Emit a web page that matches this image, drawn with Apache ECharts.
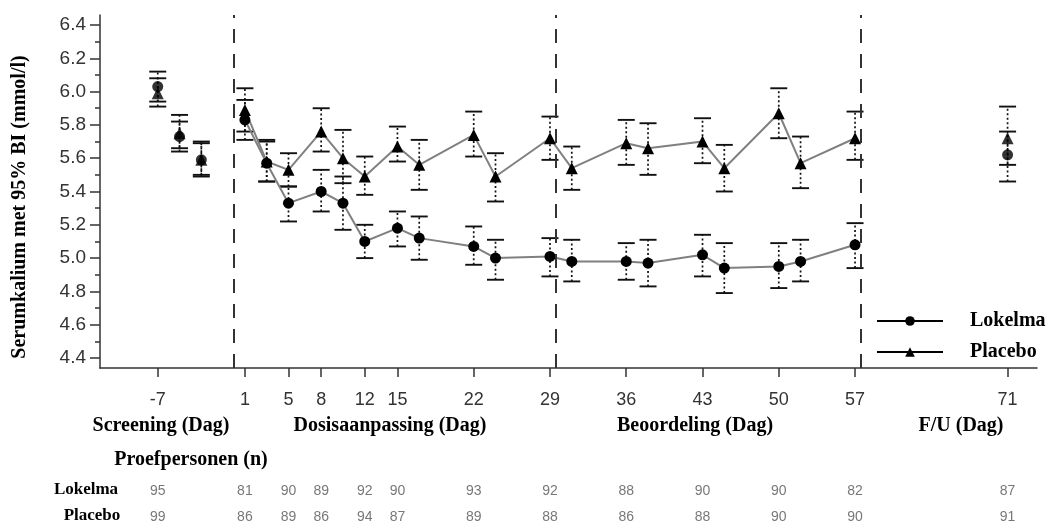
<!DOCTYPE html>
<html><head><meta charset="utf-8">
<script src="https://cdn.jsdelivr.net/npm/echarts@6/dist/echarts.min.js"></script>
<style>html,body{margin:0;padding:0;background:#fff}#c{width:1051px;height:522px}</style>
</head><body><div id="c"></div>
<script>
// ---- data ----
const mainDays = [1,3,5,8,10,12,15,17,22,24,29,31,36,38,43,45,50,52,57];
const lokMain  = [5.83,5.57,5.33,5.40,5.33,5.10,5.18,5.12,5.07,5.00,5.01,4.98,4.98,4.97,5.02,4.94,4.95,4.98,5.08];
const lokLo    = [5.71,5.46,5.22,5.28,5.17,5.00,5.07,4.99,4.96,4.87,4.89,4.86,4.87,4.83,4.89,4.79,4.82,4.86,4.94];
const lokHi    = [5.95,5.70,5.43,5.53,5.49,5.20,5.28,5.25,5.19,5.11,5.12,5.11,5.09,5.11,5.14,5.09,5.09,5.11,5.21];
const plaMain  = [5.89,5.58,5.53,5.76,5.60,5.49,5.67,5.56,5.74,5.49,5.72,5.54,5.69,5.66,5.70,5.54,5.87,5.57,5.72];
const plaLo    = [5.76,5.46,5.43,5.64,5.45,5.38,5.58,5.41,5.61,5.34,5.59,5.41,5.56,5.50,5.57,5.40,5.72,5.42,5.59];
const plaHi    = [6.02,5.71,5.63,5.90,5.77,5.61,5.79,5.71,5.88,5.63,5.85,5.67,5.83,5.81,5.84,5.68,6.02,5.73,5.88];

const sideDays = [-7,-5,-3,71];
const lokSide  = [6.03,5.73,5.59,5.62];
const lokSideLo= [5.94,5.64,5.49,5.46];
const lokSideHi= [6.12,5.82,5.69,5.76];
const plaSide  = [5.99,5.75,5.59,5.72];
const plaSideLo= [5.91,5.66,5.50,5.56];
const plaSideHi= [6.08,5.86,5.70,5.91];

const xTicks = [-7,1,5,8,12,15,22,29,36,43,50,57,71];
const yTicks = [4.4,4.6,4.8,5.0,5.2,5.4,5.6,5.8,6.0,6.2,6.4];
const yMinor = [4.5,4.7,4.9,5.1,5.3,5.5,5.7,5.9,6.1,6.3];
const phaseBreaks = [0,29.5,57.5];

const nDays = [-7,1,5,8,12,15,22,29,36,43,50,57,71];
const nLok  = [95,81,90,89,92,90,93,92,88,90,90,82,87];
const nPla  = [99,86,89,86,94,87,89,88,86,88,90,90,91];

const phaseLabels = ['Screening (Dag)','Dosisaanpassing (Dag)','Beoordeling (Dag)','F/U (Dag)'];

// ---- chart ----
const SERIF = 'Liberation Serif';
const SANS = 'Liberation Sans';
const chart = echarts.init(document.getElementById('c'));

function pairs(xs, ys){ return xs.map((x,i)=>[x, ys[i]]); }
function errSeries(id, xs, lo, hi){
  return {
    type:'custom', id, name:id, xAxisIndex:0, yAxisIndex:0, z:2, silent:true,
    data: xs.map((x,i)=>[x, lo[i], hi[i]]),
    encode:{x:0, y:[1,2]},
    renderItem(params, api){
      const x = api.value(0);
      const p1 = api.coord([x, api.value(1)]);
      const p2 = api.coord([x, api.value(2)]);
      const hw = 8.5;
      return {type:'group', children:[
        {type:'line', shape:{x1:p1[0],y1:p1[1],x2:p2[0],y2:p2[1]}, style:{stroke:'#111', lineWidth:1.7, lineDash:[2,2.5]}},
        {type:'line', shape:{x1:p1[0]-hw,y1:p1[1],x2:p1[0]+hw,y2:p1[1]}, style:{stroke:'#111', lineWidth:1.9}},
        {type:'line', shape:{x1:p2[0]-hw,y1:p2[1],x2:p2[0]+hw,y2:p2[1]}, style:{stroke:'#111', lineWidth:1.9}}
      ]};
    }
  };
}

const phaseX = [161,390,695,961];
const graphics = phaseLabels.map((t,i)=>({
  type:'text', x:phaseX[i], y:426,
  style:{text:t, font:'bold 20px "'+SERIF+'"', fill:'#000', textAlign:'center', textVerticalAlign:'middle'}
}));
graphics.push({type:'text', x:191, y:460, style:{text:'Proefpersonen (n)', font:'bold 20px "'+SERIF+'"', fill:'#000', textAlign:'center', textVerticalAlign:'middle'}});
graphics.push({type:'text', x:86, y:490, style:{text:'Lokelma', font:'bold 17px "'+SERIF+'"', fill:'#000', textAlign:'center', textVerticalAlign:'middle'}});
graphics.push({type:'text', x:92, y:516, style:{text:'Placebo', font:'bold 17px "'+SERIF+'"', fill:'#000', textAlign:'center', textVerticalAlign:'middle'}});
graphics.push({type:'text', x:20, y:207, rotation:Math.PI/2, style:{text:'Serumkalium met 95% BI (mmol/l)', font:'bold 20px "'+SERIF+'"', fill:'#000', textAlign:'center', textVerticalAlign:'middle'}});

const option = {
  animation:false,
  backgroundColor:'#fff',
  grid:[
    {left:100, right:14, top:15, bottom:154},
    {left:100, right:14, top:491, bottom:5}
  ],
  xAxis:[
    {type:'value', gridIndex:0, min:-12.3, max:73.7,
     axisLine:{show:true, onZero:false, lineStyle:{color:'#333', width:1.5}},
     axisTick:{show:true, customValues:xTicks, length:9, lineStyle:{color:'#333', width:1.5}},
     axisLabel:{show:true, customValues:xTicks, margin:23, fontSize:18, color:'#333', fontFamily:SANS},
     splitLine:{show:false}},
    {type:'value', gridIndex:1, min:-12.3, max:73.7, show:false}
  ],
  yAxis:[
    {type:'value', gridIndex:0, min:4.34, max:6.46, position:'left',
     axisLine:{show:true, onZero:false, lineStyle:{color:'#333', width:1.5}},
     axisTick:{show:true, customValues:yTicks, length:10, lineStyle:{color:'#333', width:1.5}},
     axisLabel:{show:true, customValues:yTicks, formatter:v=>Number(v).toFixed(1), margin:14, fontSize:19, color:'#333', fontFamily:SANS},
     splitLine:{show:false}},
    {type:'value', gridIndex:0, min:4.34, max:6.46, position:'left',
     axisLine:{show:false, onZero:false},
     axisTick:{show:true, customValues:yMinor, length:5, lineStyle:{color:'#333', width:1.5}},
     axisLabel:{show:false}, splitLine:{show:false}},
    {type:'value', gridIndex:1, min:0, max:1, show:false}
  ],
  legend:{
    data:['Lokelma','Placebo'], orient:'vertical', left:876, top:309, padding:0,
    itemWidth:66, itemHeight:12, itemGap:7,
    lineStyle:{color:'#000', width:2},
    itemStyle:{color:'#000'},
    textStyle:{fontFamily:SERIF, fontWeight:'bold', fontSize:20, color:'#000', lineHeight:24, padding:[0,0,0,22]},
    selectedMode:false
  },
  graphic:graphics,
  series:[
    {type:'line', name:'Lokelma', data:pairs(mainDays, lokMain), symbol:'circle', symbolSize:11, z:4,
     itemStyle:{color:'#000'}, lineStyle:{color:'#808080', width:2},
     markLine:{silent:true, symbol:['none','none'], label:{show:false},
       lineStyle:{type:[14,11], color:'#333', width:2},
       data:phaseBreaks.map(v=>({xAxis:v}))}},
    {type:'line', name:'Placebo', data:pairs(mainDays, plaMain), symbol:'triangle', symbolSize:12, z:4,
     itemStyle:{color:'#000'}, lineStyle:{color:'#808080', width:2}},
    {type:'scatter', name:'Lokelma', data:pairs(sideDays, lokSide), symbol:'circle', symbolSize:11, z:4, itemStyle:{color:'#000'}},
    {type:'scatter', name:'Placebo', data:pairs(sideDays, plaSide), symbol:'triangle', symbolSize:12, z:4, itemStyle:{color:'#000'}},
    errSeries('errLokMain', mainDays, lokLo, lokHi),
    errSeries('errPlaMain', mainDays, plaLo, plaHi),
    errSeries('errLokSide', sideDays, lokSideLo, lokSideHi),
    errSeries('errPlaSide', sideDays, plaSideLo, plaSideHi),
    {type:'scatter', name:'nLok', xAxisIndex:1, yAxisIndex:2, symbolSize:1, itemStyle:{color:'rgba(0,0,0,0)'}, silent:true,
     data:nDays.map((d,i)=>[d,1,nLok[i]]),
     label:{show:true, position:'inside', formatter:p=>String(p.value[2]), fontSize:14, color:'#555', fontFamily:SANS}},
    {type:'scatter', name:'nPla', xAxisIndex:1, yAxisIndex:2, symbolSize:1, itemStyle:{color:'rgba(0,0,0,0)'}, silent:true,
     data:nDays.map((d,i)=>[d,0,nPla[i]]),
     label:{show:true, position:'inside', formatter:p=>String(p.value[2]), fontSize:14, color:'#555', fontFamily:SANS}}
  ]
};
chart.setOption(option);
</script></body></html>
